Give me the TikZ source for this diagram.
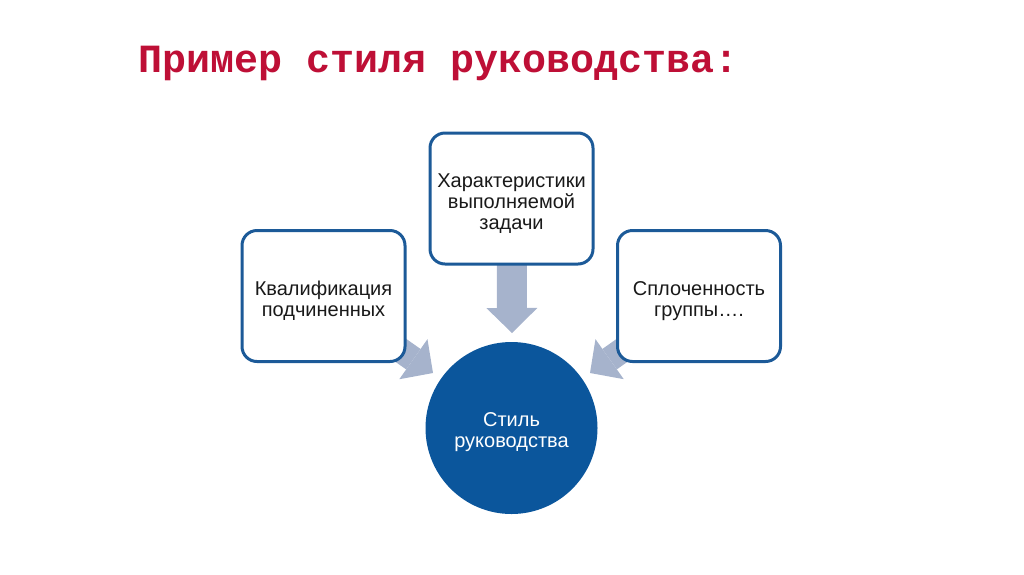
\documentclass[tikz,border=0pt]{standalone}
\usepackage{fontspec}
\setmainfont{Liberation Sans}
\newfontfamily\titlefont{Liberation Mono}
\usetikzlibrary{arrows.meta,backgrounds}
\definecolor{boxblue}{HTML}{1C5A98}
\definecolor{circblue}{HTML}{0B569C}
\definecolor{arrowgrey}{HTML}{A6B3CC}
\definecolor{titlered}{HTML}{BE0F36}
\begin{document}
\begin{tikzpicture}[x=1pt,y=-1pt,
  boxtext/.style={align=center, font=\fontsize{20}{21}\selectfont, inner sep=0pt},
  factor/.style={draw=boxblue, line width=3pt, rounded corners=15pt, fill=white,
    minimum width=163pt, minimum height=131pt, inner sep=0pt,
    label={[boxtext, text=black!90, yshift=-5pt]center:{#1}}},
  core/.style={circle, fill=circblue, minimum size=172pt, inner sep=0pt,
    label={[boxtext, text=white, yshift=-4pt]center:{#1}}},
  blockdown/.style={draw=arrowgrey, line width=30pt,
    -{Triangle[length=25pt,width=51pt,line width=0pt]}},
  blockdiag/.style={draw=arrowgrey, line width=25pt,
    -{Triangle[length=24pt,width=49pt,line width=0pt]}}
]
\useasboundingbox (0,0) rectangle (1024,574);
\node[anchor=base west, font=\titlefont\bfseries\fontsize{40}{40}\selectfont,
  text=titlered, inner sep=0pt] (title) at (138,72) {Пример стиля руководства:};

\node[factor={Квалификация\\подчиненных}] (kval) at (323.5,296) {};
\node[factor={Характеристики\\выполняемой\\задачи}] (task) at (511.5,198.5) {};
\node[factor={Сплоченность\\группы….}] (coh) at (699,296) {};
\node[core={Стиль\\руководства}] (style) at (511.5,428) {};

\coordinate (tipD) at (512,333);
\coordinate (tipL) at (433,373);
\coordinate (tipR) at (590,373);

\begin{pgfonlayer}{background}
  \draw[blockdown] (task.center) -- (tipD);
  \draw[blockdiag] (kval.center) -- (tipL);
  \draw[blockdiag] (coh.center) -- (tipR);
\end{pgfonlayer}
\end{tikzpicture}
\end{document}
